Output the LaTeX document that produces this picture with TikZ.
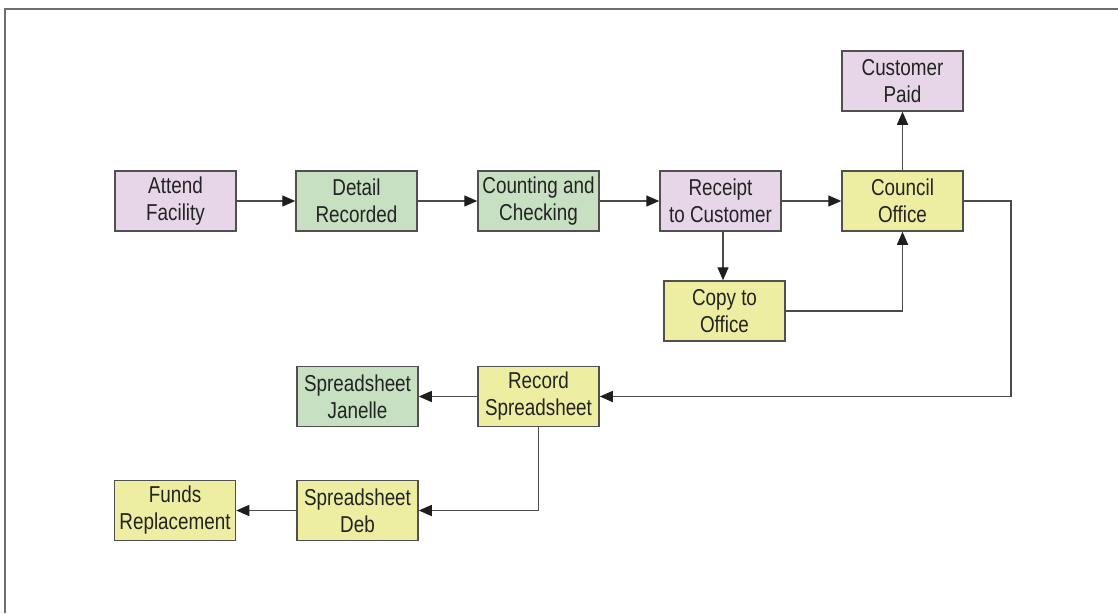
\documentclass[tikz,border=0pt]{standalone}
\usepackage{fontspec}
\setmainfont{Liberation Sans}[FakeStretch=0.82]
\usetikzlibrary{arrows.meta}
\definecolor{pinkfill}{RGB}{231,214,232}
\definecolor{greenfill}{RGB}{199,224,193}
\definecolor{yellowfill}{RGB}{238,238,162}
\definecolor{boxline}{RGB}{80,80,80}
\definecolor{arrline}{RGB}{75,75,75}
\definecolor{tipcol}{RGB}{30,30,30}
\definecolor{txt}{RGB}{35,35,35}
\definecolor{frameline}{RGB}{110,110,110}
\tikzset{
  box/.style={draw=boxline, line width=1.5pt, minimum width=121pt, minimum height=60pt,
    inner sep=0pt, align=center, text=txt, font=\fontsize{23}{27}\selectfont},
  pinkbox/.style={box, fill=pinkfill},
  greenbox/.style={box, fill=greenfill},
  yellowbox/.style={box, fill=yellowfill},
  conn/.style={draw=arrline, line width=1.4pt, -{Triangle[length=13pt,width=11pt,color=tipcol]}},
}
\begin{document}
\begin{tikzpicture}[x=1pt,y=-1pt]
\useasboundingbox (0,0) rectangle (1118,613);
\draw[frameline, line width=1.4pt] (5,613) -- (5,9) -- (1118,9);

\node[pinkbox]   (attend)   at (175.5,201) {Attend\\Facility};
\node[greenbox]  (detail)   at (356.5,201) {Detail\\Recorded};
\node[greenbox]  (counting) at (538.5,201) {Counting and\\Checking};
\node[pinkbox]   (receipt)  at (720.5,201) {Receipt\\to Customer};
\node[yellowbox] (council)  at (902.5,201) {Council\\Office};
\node[pinkbox]   (paid)     at (902.5,81)  {Customer\\Paid};
\node[yellowbox] (copy)     at (724.5,311) {Copy to\\Office};
\node[yellowbox] (record)   at (538.5,396.5) {Record\\Spreadsheet};
\node[greenbox]  (janelle)  at (357.5,396.5) {Spreadsheet\\Janelle};
\node[yellowbox] (deb)      at (357.5,510.5) {Spreadsheet\\Deb};
\node[yellowbox] (funds)    at (175,510.5)   {Funds\\Replacement};

\coordinate (rc) at (723,231);
\coordinate (turn) at (1011,201);

\draw[conn] (attend) -- (detail);
\draw[conn] (detail) -- (counting);
\draw[conn] (counting) -- (receipt);
\draw[conn] (receipt) -- (council);
\draw[conn] (council) -- (paid);
\draw[conn] (rc) -- (rc |- copy.north);
\draw[conn] (copy.east) -| (council.south);
\draw[conn] (council.east) -- (turn) |- (record.east);
\draw[conn] (record) -- (janelle);
\draw[conn] (record.south) |- (deb.east);
\draw[conn] (deb) -- (funds);
\end{tikzpicture}
\end{document}
